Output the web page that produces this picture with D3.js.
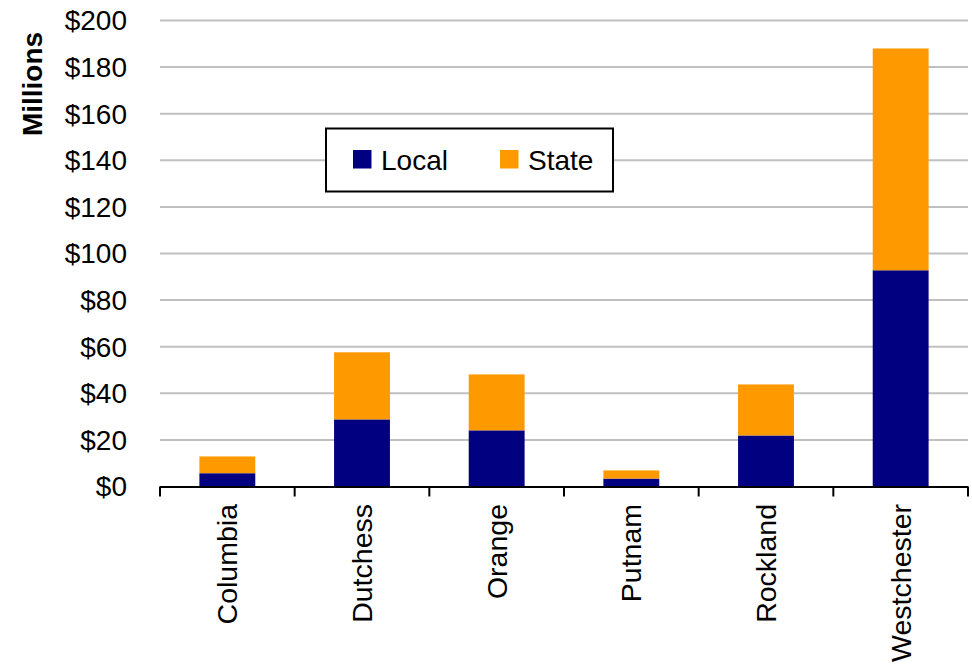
<!DOCTYPE html>
<html>
<head>
<meta charset="utf-8">
<script src="https://cdn.jsdelivr.net/npm/d3@7"></script>
<style>
  html, body { margin: 0; padding: 0; background: #fff; }
  svg { display: block; font-family: "Liberation Sans", Arial, sans-serif; }
</style>
</head>
<body>
<svg id="chart" width="972" height="668"></svg>
<script>
const categories = ["Columbia", "Dutchess", "Orange", "Putnam", "Rockland", "Westchester"];
const localValues = [5.7, 28.8, 24.1, 3.4, 21.9, 92.8];
const stateValues = [7.2, 28.8, 24.0, 3.5, 21.9, 95.2];
const seriesNames = ["Local", "State"];
const seriesColors = ["#000080", "#FF9900"];
const yTicks = [0, 20, 40, 60, 80, 100, 120, 140, 160, 180, 200];

(function () {
const svg = d3.select("#chart");
const pLeft = 160, pRight = 968, pTop = 20.5, pBottom = 486.5;

const x = d3.scaleBand().domain(categories).range([pLeft, pRight]).paddingInner(0.585).paddingOuter(0.2925);
const y = d3.scaleLinear().domain([0, 200]).range([pBottom, pTop]);

// gridlines
svg.append("g").selectAll("line").data(yTicks.filter(d => d > 0)).join("line")
  .attr("x1", pLeft).attr("x2", pRight)
  .attr("y1", d => y(d)).attr("y2", d => y(d))
  .attr("stroke", "#c0c0c0").attr("stroke-width", 2);

// y labels
svg.append("g").selectAll("text").data(yTicks).join("text")
  .attr("x", 127).attr("y", d => y(d)).attr("dy", "0.35em")
  .attr("text-anchor", "end").attr("font-size", 28).attr("fill", "#000")
  .text(d => "$" + d);

// stacked bars
const rows = categories.map((c, i) => ({ cat: c, Local: localValues[i], State: stateValues[i] }));
const stack = d3.stack().keys(seriesNames)(rows);
svg.append("g").selectAll("g").data(stack).join("g")
  .attr("fill", (d, i) => seriesColors[i])
  .selectAll("rect").data(d => d).join("rect")
  .attr("x", d => x(d.data.cat))
  .attr("width", x.bandwidth())
  .attr("y", d => y(d[1]))
  .attr("height", d => y(d[0]) - y(d[1]));

// x axis
const step = (pRight - pLeft) / categories.length;
const boundaries = d3.range(categories.length + 1).map(i => pLeft + i * step);
svg.append("line").attr("x1", pLeft).attr("x2", pRight).attr("y1", pBottom + 0.5).attr("y2", pBottom + 0.5)
  .attr("stroke", "#000").attr("stroke-width", 2);
svg.append("g").selectAll("line").data(boundaries).join("line")
  .attr("x1", d => d).attr("x2", d => d)
  .attr("y1", pBottom).attr("y2", pBottom + 10)
  .attr("stroke", "#000").attr("stroke-width", 2);

// category labels
svg.append("g").selectAll("text").data(categories).join("text")
  .attr("transform", d => `translate(${x(d) + x.bandwidth() / 2},504) rotate(-90)`)
  .attr("dy", "0.35em")
  .attr("text-anchor", "end").attr("font-size", 28.5).attr("fill", "#000")
  .text(d => d);

// y title
svg.append("text")
  .attr("transform", "translate(32,84) rotate(-90)")
  .attr("dy", "0.35em")
  .attr("text-anchor", "middle").attr("font-size", 28).attr("font-weight", "bold")
  .text("Millions");

// legend
const lg = svg.append("g");
lg.append("rect").attr("x", 326).attr("y", 128.5).attr("width", 287).attr("height", 63)
  .attr("fill", "#fff").attr("stroke", "#000").attr("stroke-width", 2);
const legendX = [353, 500];
seriesNames.forEach((s, i) => {
  lg.append("rect").attr("x", legendX[i]).attr("y", 150).attr("width", 18.5).attr("height", 18.5)
    .attr("fill", seriesColors[i]);
  lg.append("text").attr("x", legendX[i] + 28).attr("y", 160).attr("dy", "0.35em")
    .attr("font-size", 28).attr("fill", "#000").text(s);
});
})();
</script>
</body>
</html>
